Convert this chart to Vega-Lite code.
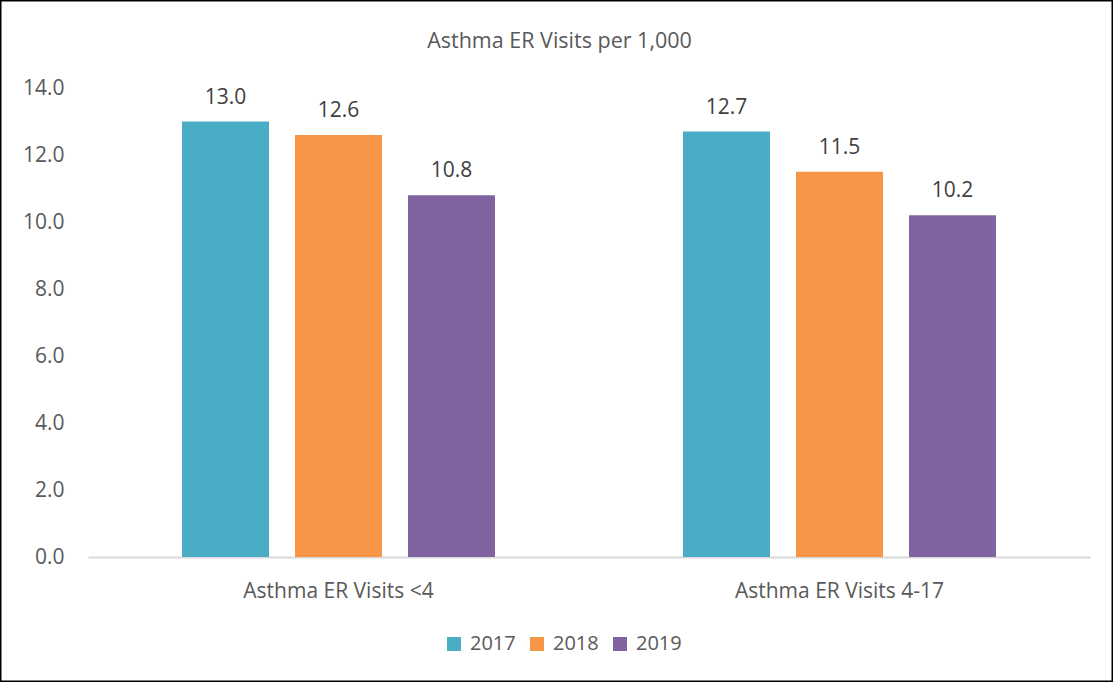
{
  "$schema": "https://vega.github.io/schema/vega-lite/v6.json",
  "width": 1113,
  "height": 682,
  "autosize": {"type": "none"},
  "padding": 0,
  "background": "white",
  "title": {
    "text": "Asthma ER Visits per 1,000",
    "frame": "group",
    "anchor": "middle",
    "orient": "top",
    "offset": -52,
    "dx": 3,
    "font": "Open Sans",
    "fontSize": 21.5,
    "fontWeight": "normal",
    "color": "#595959"
  },
  "config": {
    "view": {"stroke": "black", "strokeWidth": 3},
    "font": "Open Sans"
  },
  "data": {
    "values": [
      {"group": "Asthma ER Visits <4", "year": "2017", "value": 13.0},
      {"group": "Asthma ER Visits <4", "year": "2018", "value": 12.6},
      {"group": "Asthma ER Visits <4", "year": "2019", "value": 10.8},
      {"group": "Asthma ER Visits 4-17", "year": "2017", "value": 12.7},
      {"group": "Asthma ER Visits 4-17", "year": "2018", "value": 11.5},
      {"group": "Asthma ER Visits 4-17", "year": "2019", "value": 10.2}
    ]
  },
  "encoding": {
    "x": {
      "field": "group",
      "type": "nominal",
      "sort": null,
      "title": null,
      "scale": {"range": [88, 1090], "paddingInner": 0, "paddingOuter": 0},
      "axis": {
        "orient": "bottom",
        "offset": -125,
        "labelAngle": 0,
        "ticks": false,
        "labelBaseline": "alphabetic",
        "labelPadding": 40,
        "labelLimit": 0,
        "labelFont": "Open Sans",
        "labelFontSize": 21,
        "labelColor": "#595959",
        "domainColor": "#D9D9D9",
        "domainWidth": 2,
        "grid": false
      }
    },
    "xOffset": {
      "field": "year",
      "type": "nominal",
      "scale": {"paddingInner": 0.23, "paddingOuter": 0.832}
    },
    "y": {
      "field": "value",
      "type": "quantitative",
      "title": null,
      "scale": {"domain": [0, 14], "range": [557, 88], "nice": false, "zero": true},
      "axis": {
        "orient": "left",
        "offset": -88,
        "values": [0, 2, 4, 6, 8, 10, 12, 14],
        "format": ".1f",
        "domain": false,
        "ticks": false,
        "grid": false,
        "labelPadding": 24,
        "labelFont": "Open Sans",
        "labelFontSize": 21,
        "labelColor": "#595959"
      }
    }
  },
  "layer": [
    {
      "mark": {"type": "bar"},
      "encoding": {
        "color": {
          "field": "year",
          "type": "nominal",
          "scale": {"domain": ["2017", "2018", "2019"], "range": ["#4BACC6", "#F79646", "#8064A2"]},
          "legend": {
            "title": null,
            "orient": "none",
            "direction": "horizontal",
            "legendX": 444,
            "legendY": 634,
            "symbolType": "square",
            "symbolSize": 196,
            "symbolStrokeWidth": 0,
            "symbolOpacity": 1,
            "labelFont": "Open Sans",
            "labelFontSize": 20,
            "labelColor": "#595959",
            "labelOffset": 6,
            "columnPadding": 11
          }
        }
      }
    },
    {
      "mark": {"type": "text", "baseline": "alphabetic", "dy": -18, "font": "Open Sans", "fontSize": 21, "color": "#404040"},
      "encoding": {
        "text": {"field": "value", "type": "quantitative", "format": ".1f"}
      }
    }
  ]
}
